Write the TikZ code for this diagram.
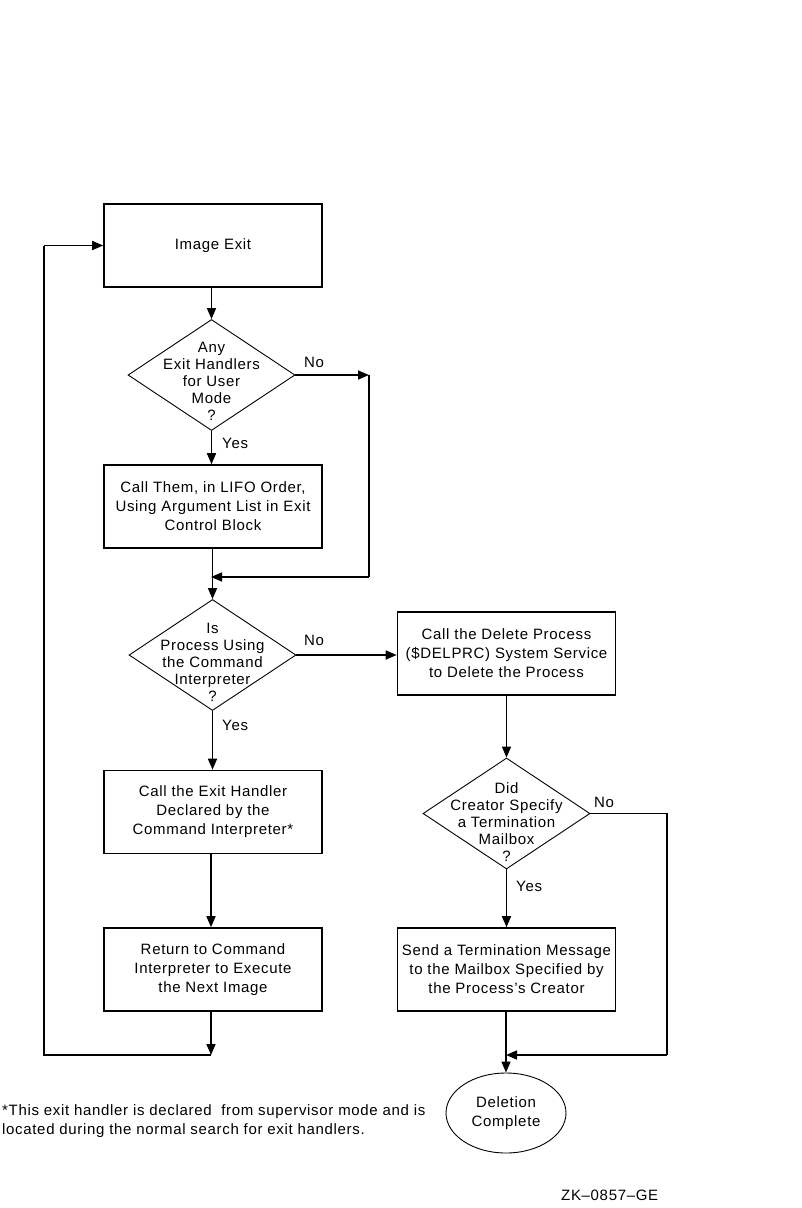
\documentclass[tikz,border=0pt]{standalone}
\usepackage{fontspec}
\setmainfont{Liberation Sans}[LetterSpace=4.5]
\usetikzlibrary{arrows.meta,shapes.geometric}
\begin{document}
\begin{tikzpicture}[x=1pt,y=-1pt,
  every node/.style={font=\fontsize{15}{19}\selectfont},
  procbox/.style={draw,line width=1.6pt,minimum width=218pt,minimum height=83pt,inner sep=0pt,align=center},
  decision/.style={draw,diamond,line width=0.9pt,minimum width=167pt,minimum height=111pt,inner sep=0pt},
  dtext/.style={align=center,inner sep=0pt,font=\fontsize{15}{17}\selectfont},
  lbl/.style={inner sep=0pt,anchor=west},
  conn/.style={line width=1.6pt,-{Triangle[length=11pt,width=9pt]}},
  plain/.style={line width=1.6pt}]
\path[use as bounding box] (0,0) rectangle (802,1208);

% left column
\node[procbox] (exit) at (213,245.5) {Image Exit};
\node[decision] (d1) at (211.5,375) {};
\node[dtext] (d1t) at (211.5,381) {Any\\Exit Handlers\\for User\\Mode\\?};
\node[procbox] (call) at (213,506.5) {Call Them, in LIFO Order,\\Using Argument List in Exit\\Control Block};
\node[decision] (d2) at (212.5,655) {};
\node[dtext] (d2t) at (212.5,662) {Is\\Process Using\\the Command\\Interpreter\\?};
\node[procbox] (ceh) at (213,812) {Call the Exit Handler\\Declared by the\\Command Interpreter*};
\node[procbox] (ret) at (213,969.5) {Return to Command\\Interpreter to Execute\\the Next Image};

% right column
\node[procbox] (del) at (506.5,653.5) {Call the Delete Process\\(\$DELPRC) System Service\\to Delete the Process};
\node[decision] (d3) at (506.5,813.5) {};
\node[dtext] (d3t) at (506.5,822) {Did\\Creator Specify\\a Termination\\Mailbox\\?};
\node[procbox] (send) at (506.5,969.5) {Send a Termination Message\\to the Mailbox Specified by\\the Process's Creator};
\node[draw,ellipse,line width=0.9pt,minimum width=120pt,minimum height=80pt,inner sep=0pt,align=center] (done) at (506,1113) {Deletion\\Complete};

% junction coordinates
\coordinate (j1) at (369,375);
\coordinate (j1b) at (369,577);
\coordinate (m1) at (211,577);
\coordinate (j2) at (211,1055);
\coordinate (j2l) at (44,1055);
\coordinate (j2t) at (44,245.5);
\coordinate (j3) at (667,813.5);
\coordinate (j3b) at (667,1055);
\coordinate (m3) at (506,1055);

% connectors
\draw[conn] (exit.south -| d1.north) -- (d1.north);
\draw[conn] (d1.east) -- (j1);
\draw[plain] (j1) -- (j1b);
\draw[conn] (j1b) -- (m1);
\draw[conn] (d1.south) -- (call.north -| d1.south);
\draw[conn] (call.south -| d2.north) -- (d2.north);
\draw[conn] (d2.east) -- (del.west |- d2.east);
\draw[conn] (d2.south) -- (ceh.north -| d2.south);
\draw[conn] (ceh.south -| 211,0) -- (ret.north -| 211,0);
\draw[conn] (ret.south -| 211,0) -- (j2);
\draw[plain] (j2) -- (j2l) -- (j2t);
\draw[conn] (j2t) -- (exit.west);
\draw[conn] (del.south -| d3.north) -- (d3.north);
\draw[plain] (d3.east) -- (j3) -- (j3b);
\draw[conn] (j3b) -- (m3);
\draw[conn] (d3.south) -- (send.north -| d3.south);
\draw[conn] (send.south -| done.north) -- (done.north);

% labels
\node[lbl] (no1) at (304,362) {No};
\node[lbl] (yes1) at (222,443) {Yes};
\node[lbl] (no2) at (304,640) {No};
\node[lbl] (yes2) at (222,725) {Yes};
\node[lbl] (no3) at (594,802) {No};
\node[lbl] (yes3) at (516,886) {Yes};

% footnote
\node[anchor=west,align=left,inner sep=0pt] (foot) at (2,1121.5) {*This exit handler is declared\ \ from supervisor mode and is\\located during the normal search for exit handlers.};
\node[anchor=west,inner sep=0pt] (zk) at (561,1195) {ZK--0857--GE};
\end{tikzpicture}
\end{document}
